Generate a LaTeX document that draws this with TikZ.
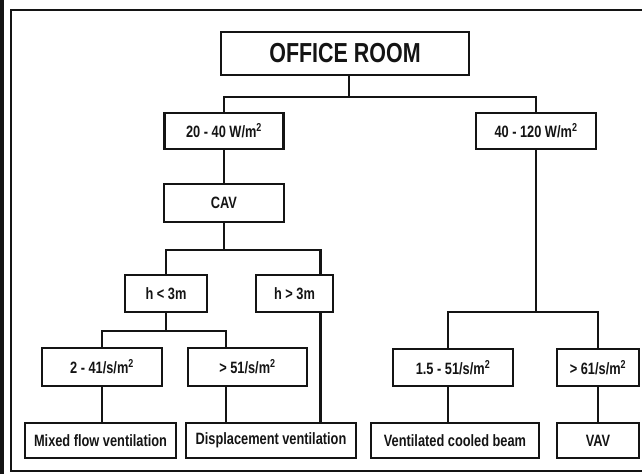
\documentclass[tikz,border=0pt]{standalone}
\usepackage{fontspec}
\setmainfont{Liberation Sans}[FakeStretch=0.78]
\usepackage{tikz}
\usetikzlibrary{calc}
\definecolor{RoomInk}{HTML}{141414}

\begin{document}
\begin{tikzpicture}[x=1pt,y=-1pt,
    font=\bfseries\fontsize{16.4}{19}\selectfont,
    box/.style={draw=RoomInk, line width=2.5pt, inner sep=0pt, text=RoomInk,
      minimum height=37pt},
    link/.style={draw=RoomInk, line width=2.3pt}]
    \useasboundingbox (0,0) rectangle (642,474);
    % frame
    \draw[RoomInk, line width=3.5pt] (2,0) -- (2,474);
    \draw[RoomInk, line width=2.6pt] (642,10) -- (11,10) -- (11,471) -- (642,471);

    \node[box, minimum width=248pt, minimum height=43pt,
      font=\bfseries\fontsize{27.5}{30}\selectfont] (office) at (345,53.5) {OFFICE ROOM};
    \node[box, minimum width=119pt, minimum height=36pt] (low) at (224,131) {20 - 40 W/m\textsuperscript{2}};
    \node[box, minimum width=120pt, minimum height=36pt] (high) at (536,131) {40 - 120 W/m\textsuperscript{2}};
    \node[box, minimum width=120pt, minimum height=38pt] (cav) at (224,203) {CAV};
    \node[box, minimum width=82pt] (hlow) at (166,293.5) {h < 3m};
    \node[box, minimum width=77pt] (hhigh) at (294.5,293.5) {h > 3m};
    \node[box, minimum width=120pt, minimum height=38pt] (flowa) at (102,367) {2 - 41/s/m\textsuperscript{2}};
    \node[box, minimum width=119pt, minimum height=38pt] (flowb) at (247.5,367) {> 51/s/m\textsuperscript{2}};
    \node[box, minimum width=120pt] (flowc) at (453,367.5) {1.5 - 51/s/m\textsuperscript{2}};
    \node[box, minimum width=82pt] (flowd) at (598,367.5) {> 61/s/m\textsuperscript{2}};
    \node[box, minimum width=151pt, minimum height=35pt] (mixed) at (100.5,440.5) {Mixed flow ventilation};
    \node[box, minimum width=170pt, minimum height=35pt] (displ) at (271,440.5) {Displacement ventilation};
    \node[box, minimum width=168pt, minimum height=35pt] (beam) at (455,440.5) {Ventilated cooled beam};
    \node[box, minimum width=82pt, minimum height=35pt] (vav) at (598,440.5) {VAV};

    % branches
    \coordinate (split1) at (349,97);
    \coordinate (split2) at (224,250);
    \coordinate (split3) at (163,331);
    \coordinate (split4) at (536,312);
    \draw[link] (split1 |- office.south) -- (split1);
    \draw[link] (low.north) |- (split1) -| (high.north);
    \draw[link] (low.south) -- (cav.north);
    \draw[link] (cav.south) -- (cav.south |- split2);
    \draw[link] (hlow.north) |- (split2) -| ([xshift=26pt]hhigh.north);
    \draw[link] (hlow.south) -- (hlow.south |- split3);
    \draw[link] (flowa.north) |- (split3) -| ([xshift=-21.5pt]flowb.north);
    \draw[link] (flowa.south) -- (mixed.north -| flowa.south);
    \draw[link] ([xshift=-21.5pt]flowb.south) -- ([xshift=-21.5pt]flowb.south |- displ.north);
    \draw[link] ([xshift=26pt]hhigh.south) -- ([xshift=26pt]hhigh.south |- displ.north);
    \draw[link] (high.south) -- (split4);
    \draw[link] ([xshift=-5pt]flowc.north) |- (split4) -| (flowd.north);
    \draw[link] ([xshift=-5pt]flowc.south) -- ([xshift=-5pt]flowc.south |- beam.north);
    \draw[link] (flowd.south) -- (vav.north);
  \end{tikzpicture}
\end{document}
